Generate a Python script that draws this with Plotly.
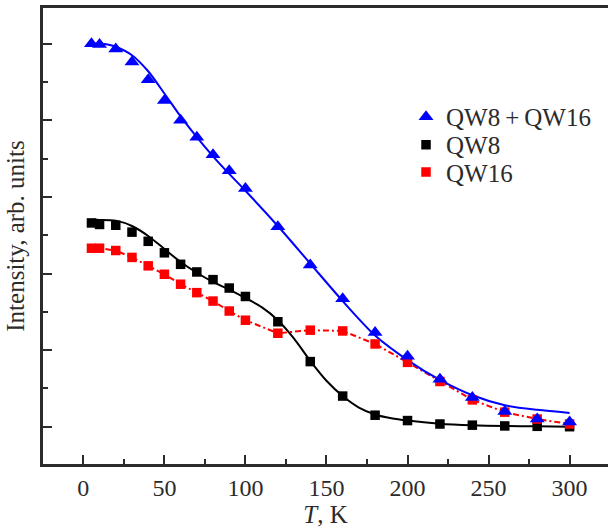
import plotly.graph_objects as go

# ---- data ----
T = [5, 10, 20, 30, 40, 50, 60, 70, 80, 90, 100, 120, 140, 160, 180, 200, 220, 240, 260, 280, 300]
qw_both = [5.00, 4.99, 4.93, 4.76, 4.53, 4.26, 4.00, 3.78, 3.55, 3.34, 3.11, 2.61, 2.11, 1.67, 1.23, 0.92, 0.62, 0.38, 0.20, 0.10, 0.06]
qw8 = [2.66, 2.64, 2.63, 2.54, 2.42, 2.27, 2.12, 2.02, 1.92, 1.81, 1.70, 1.37, 0.85, 0.40, 0.15, 0.08, 0.035, 0.02, 0.01, 0.005, 0.0]
qw16 = [2.33, 2.33, 2.30, 2.21, 2.10, 1.99, 1.86, 1.75, 1.64, 1.51, 1.39, 1.22, 1.26, 1.25, 1.08, 0.84, 0.59, 0.35, 0.19, 0.10, 0.035]

T_fit_both = [5, 10, 15, 20, 30, 40, 50, 60, 70, 80, 90, 100, 120, 140, 160, 180, 200, 220, 240, 260, 280, 300]
fit_both = [5.00, 5.00, 4.99, 4.96, 4.85, 4.64, 4.35, 4.05, 3.78, 3.53, 3.30, 3.08, 2.62, 2.13, 1.64, 1.19, 0.87, 0.61, 0.41, 0.28, 0.22, 0.18]

T_fit_8 = [5, 10, 20, 30, 40, 50, 60, 70, 80, 90, 100, 110, 120, 130, 140, 150, 160, 170, 180, 190, 200, 220, 240, 260, 280, 300]
fit_8 = [2.70, 2.70, 2.69, 2.62, 2.49, 2.32, 2.15, 2.01, 1.89, 1.79, 1.68, 1.56, 1.39, 1.15, 0.86, 0.60, 0.40, 0.25, 0.16, 0.11, 0.08, 0.04, 0.02, 0.01, 0.005, 0.0]

x_ticks = [0, 50, 100, 150, 200, 250, 300]

FONT = "Liberation Serif"
AX = "#2b2b2b"

fig = go.Figure()

# fitted / connecting lines (not in legend)
fig.add_trace(go.Scatter(x=T_fit_8, y=fit_8, mode="lines", line=dict(color="black", width=2, shape="spline", smoothing=0.8),
                         showlegend=False, hoverinfo="skip"))
fig.add_trace(go.Scatter(x=T, y=qw16, mode="lines", line=dict(color="#ff0000", width=2, dash="6px,3px,2px,3px"),
                         showlegend=False, hoverinfo="skip"))
fig.add_trace(go.Scatter(x=T_fit_both, y=fit_both, mode="lines", line=dict(color="#0000ff", width=2, shape="spline", smoothing=0.8),
                         showlegend=False, hoverinfo="skip"))

# markers (each in its own legend box so rows can be spaced like the original)
fig.add_trace(go.Scatter(x=T, y=qw8, mode="markers", name="QW8", legend="legend2",
                         marker=dict(symbol="square", size=9.5, color="black")))
fig.add_trace(go.Scatter(x=T, y=qw16, mode="markers", name="QW16", legend="legend3",
                         marker=dict(symbol="square", size=9.5, color="#ff0000")))
fig.add_trace(go.Scatter(x=T, y=qw_both, mode="markers", name="QW8\u2009+\u2009QW16", legend="legend",
                         marker=dict(symbol="triangle-up", size=13, color="#0000ff")))

leg_common = dict(xanchor="left", yanchor="middle", bgcolor="rgba(0,0,0,0)",
                  font=dict(family=FONT, size=25, color=AX), itemsizing="trace")
LX = 0.6425
fig.update_layout(
    width=608, height=532,
    margin=dict(l=43, r=0, t=8, b=68),
    paper_bgcolor="white", plot_bgcolor="white",
    font=dict(family=FONT, size=24, color=AX),
    legend=dict(x=LX, y=0.761, **leg_common),
    legend2=dict(x=LX, y=0.6996, **leg_common),
    legend3=dict(x=LX, y=0.640, **leg_common),
    showlegend=True,
)

fig.update_xaxes(
    range=[-24.9, 323.7], tickvals=x_ticks, ticktext=[str(v) for v in x_ticks],
    ticks="inside", ticklen=9, tickwidth=2, tickcolor=AX,
    minor=dict(dtick=25, tick0=0, ticks="inside", ticklen=5, tickwidth=2, tickcolor=AX),
    showline=True, linewidth=2.5, linecolor=AX, mirror=True,
    showgrid=False, zeroline=False,
    tickfont=dict(family=FONT, size=24, color=AX),
    title=dict(text="<i>T</i>, K", font=dict(family=FONT, size=25, color=AX), standoff=4),
)
fig.update_yaxes(
    range=[-0.487, 5.466], dtick=1, tick0=0, showticklabels=False,
    ticks="inside", ticklen=9, tickwidth=2, tickcolor=AX,
    minor=dict(dtick=0.5, tick0=0, ticks="inside", ticklen=5, tickwidth=2, tickcolor=AX),
    showline=True, linewidth=2.5, linecolor=AX, mirror=False,
    showgrid=False, zeroline=False,
    title=dict(text="Intensity, arb. units", font=dict(family=FONT, size=25, color=AX), standoff=9),
)

fig.write_html("out.html")
